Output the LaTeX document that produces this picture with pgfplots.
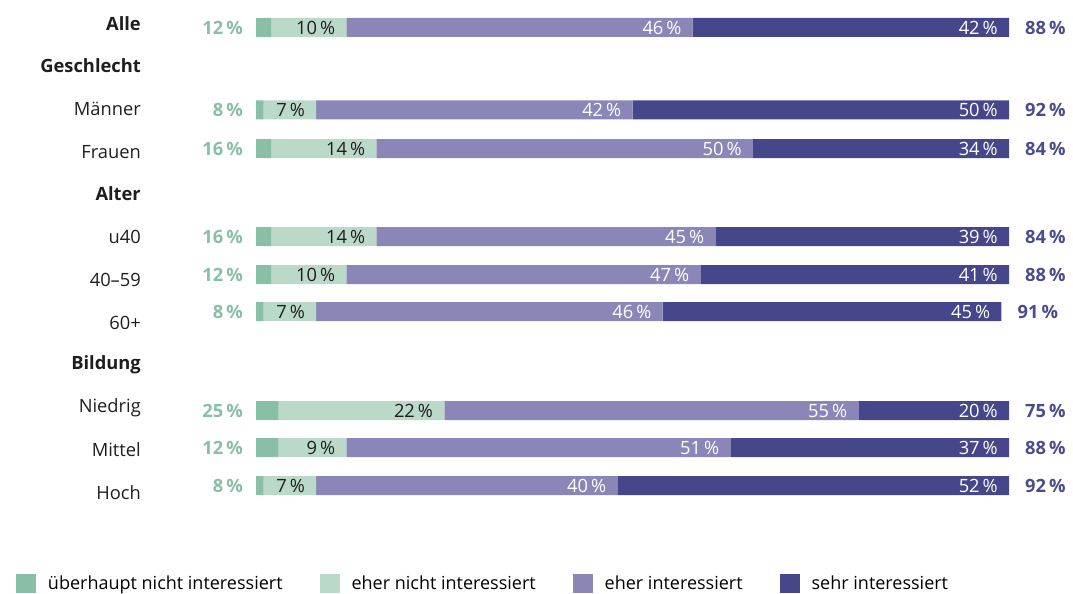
\documentclass[border=0pt]{standalone}
\usepackage{pgfplots}
\pgfplotsset{compat=1.18}
\usepackage{pgfplotstable}
\usepackage{fontspec}
\setmainfont{Open Sans}

\definecolor{cA}{HTML}{88BFA6}
\definecolor{cB}{HTML}{BBD9C9}
\definecolor{cC}{HTML}{8A86B8}
\definecolor{cD}{HTML}{46468A}
\definecolor{tG}{HTML}{88BFA6}
\definecolor{tP}{HTML}{4B4B8E}
\definecolor{tK}{HTML}{1E1E1E}

\newcommand{\fs}{\fontsize{18.3bp}{21bp}\selectfont}
\newcommand{\fl}{\fontsize{18bp}{21bp}\selectfont}

\pgfplotstableread{
y a b c d nicht inter
27.5 2 10 46 42 12 88
110 1 7 42 50 8 92
148.5 2 14 50 34 16 84
236.5 2 14 45 39 16 84
274.5 2 10 47 41 12 88
311.5 1 7 46 45 8 91
410.5 3 22 55 20 25 75
447.5 3 9 51 37 12 88
485.5 1 7 40 52 8 92
}\data

\pgfplotsset{
  frame/.style={
    at={(256bp,0)}, anchor=south west,
    scale only axis, width=753bp, height=594bp,
    xmin=0, xmax=100, ymin=0, ymax=594, y dir=reverse,
    clip=false,
    /pgf/number format/assume math mode=true,
  },
  lab/.style={draw=none, mark=none, point meta=explicit,
    nodes near coords={\pgfmathprintnumber{\pgfplotspointmeta}\,\%},
    every node near coord/.append style={font=\fs, inner sep=0pt, #1}},
}

\begin{document}
\begin{tikzpicture}
\useasboundingbox (0,0) rectangle (1073bp,594bp);
\begin{axis}[
  frame,
  xbar stacked, bar width=19bp,
  axis line style={draw=none},
  xtick=\empty,
  ytick={24,66,109,152,194,237,280,323,365,408,450,493},
  yticklabels={\textbf{Alle},\textbf{Geschlecht},Männer,Frauen,\textbf{Alter},u40,40–59,60+,\textbf{Bildung},Niedrig,Mittel,Hoch},
  major tick length=0pt,
  yticklabel style={anchor=east, inner sep=0pt, xshift=-115bp, font=\fs, text=tK},
  legend columns=4,
  legend style={at={(axis cs:-31.9,583.5)}, anchor=west, draw=none, fill=none, inner sep=0pt,
    font=\fl, legend cell align=left,
    /tikz/every even column/.append style={column sep=35bp}},
  legend image code/.code={\fill[#1] (0bp,-9.5bp) rectangle (20bp,10bp); \path (30bp,0bp);},
]
\addplot[draw=none, fill=cA] table[x=a, y=y] {\data};
\addlegendentry{überhaupt nicht interessiert}
\addplot[draw=none, fill=cB] table[x=b, y=y] {\data};
\addlegendentry{eher nicht interessiert}
\addplot[draw=none, fill=cC] table[x=c, y=y] {\data};
\addlegendentry{eher interessiert}
\addplot[draw=none, fill=cD] table[x=d, y=y] {\data};
\addlegendentry{sehr interessiert}
\end{axis}
\begin{axis}[frame, hide axis]
\addplot[lab={anchor=east, xshift=-13bp, text=tG, font=\fs\bfseries}]
  table[x expr=0, y=y, meta=nicht] {\data};
\addplot[lab={anchor=east, xshift=-11bp, text=tK}]
  table[x expr=\thisrow{a}+\thisrow{b}, y=y, meta=b] {\data};
\addplot[lab={anchor=east, xshift=-11bp, text=white}]
  table[x expr=\thisrow{a}+\thisrow{b}+\thisrow{c}, y=y, meta=c] {\data};
\addplot[lab={anchor=east, xshift=-11bp, text=white}]
  table[x expr=\thisrow{a}+\thisrow{b}+\thisrow{c}+\thisrow{d}, y=y, meta=d] {\data};
\addplot[lab={anchor=west, xshift=16bp, text=tP, font=\fs\bfseries}]
  table[x expr=\thisrow{a}+\thisrow{b}+\thisrow{c}+\thisrow{d}, y=y, meta=inter] {\data};
\end{axis}
\end{tikzpicture}
\end{document}
